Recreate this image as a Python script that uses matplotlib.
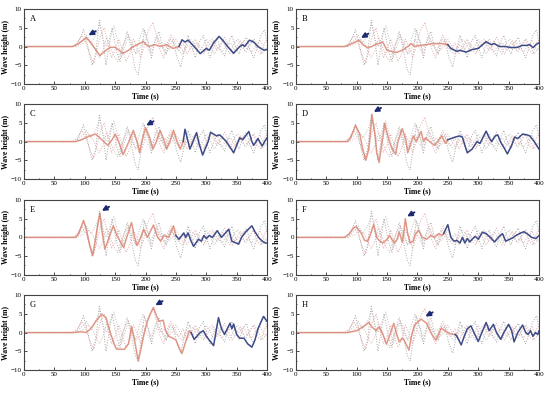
import numpy as np
import matplotlib
matplotlib.use('Agg')
import matplotlib.pyplot as plt
from matplotlib.ticker import MultipleLocator

plt.rcParams['font.family'] = ['Liberation Serif', 'DejaVu Serif']

# background gauges (dotted), shared by all panels
g1_t = [0, 85, 92, 98, 105, 112, 118, 124, 130, 135, 140, 145, 152, 158, 163, 170, 177, 183,
        188, 193, 198, 205, 210, 216, 222, 228, 234, 240, 246, 252, 258, 264, 270, 276, 282,
        288, 295, 300, 306, 312, 318, 324, 330, 336, 342, 348, 354, 360, 366, 372, 378, 384,
        390, 396, 400]
g1_v = [0, 0, 2, 4.5, 0, -5, -2, 7, 2, -5, 0, 5, -1, -4, 0, 4, -1, -6, -7.5, -2, 4.5, 1, -3,
        2, 4, 0, -2, 2, 1, -3, -5.5, -1, 3, 0, -3, 1, 3, 0, -3, 0, 2, -1, -2.5, 1, 3, 0, -2, 1,
        2.5, -1, -3, 0, 3, 4.5, 1]
g2_t = [0, 80, 88, 95, 102, 108, 115, 120, 126, 132, 138, 144, 150, 156, 162, 168, 174, 180,
        186, 192, 198, 204, 212, 218, 224, 230, 236, 242, 248, 255, 262, 268, 275, 282, 290,
        296, 302, 310, 317, 323, 330, 337, 343, 350, 356, 363, 370, 377, 384, 390, 396, 400]
g2_v = [0, 0, 1, 3, 1, -2, -4.5, -1, 3, 5, 1, -3, -1, 2, -1, -4, -2, 2, 0, -3, 0, 4, 6.5, 3,
        -1, -3, 1, 3, 0, -1, 1, -2, 0, 2, -1, -2, 1, 2, -1, 0, 2.5, 0, -2, 0, 1.5, -1, 0, 2, -1,
        -2, 1, 2]
g3_t = [0, 85, 95, 103, 110, 118, 125, 130, 136, 142, 148, 155, 160, 166, 172, 178, 184, 190,
        196, 202, 208, 214, 220, 227, 233, 240, 246, 253, 260, 266, 273, 280, 287, 294, 300,
        307, 313, 320, 326, 333, 339, 346, 352, 358, 365, 372, 379, 386, 392, 400]
g3_v = [0, 0, 1.5, 3, 1, 3, 6, 2, 0, 3, 5.5, 1, -3, 0, 3, 1, -2, 2, 5, 2, -1, 1, 2.5, 0, -2, 0,
        2, -1, -2, 0, 2, 1, -1.5, 0, 2, 0, -2, 0, 1.5, -0.5, -2, 1, 2, 0, -1.5, 0.5, 2, 0, -2, 0]
g4_t = [0, 85, 95, 105, 112, 118, 124, 130, 136, 142, 148, 154, 160, 166, 172, 178, 184, 190,
        196, 202, 208, 214, 220, 226, 232, 238, 244, 250, 257, 263, 270, 277, 284, 291, 298,
        305, 312, 319, 326, 333, 340, 347, 354, 361, 368, 375, 382, 389, 395, 400]
g4_v = [0, 0, 0.5, 2, 1, -1, -3, -1, 2.5, 0, -2.5, -4, -1, 1.5, 3, 0, -2, -1, 2, 0, -2, 0, 1.5,
        0, 1, -1, 0, 2, 0, -1.5, 0.5, -1, 1, 0, -1.5, 0.5, 1.5, -0.5, -1.5, 0.5, 1, -1, 0, 1.5,
        -0.5, -1.5, 0.5, 1.5, -0.5, -1]

# highlighted gauge of each panel: time, height, time where colour changes
a_t = [0, 80, 90, 103, 112, 125, 135, 142, 150, 163, 172, 180, 196, 205, 215, 225, 235, 245,
       255, 260, 265, 270, 280, 290, 300, 305, 312, 321, 328, 335, 345, 355, 360, 363, 371,
       378, 385, 390, 395, 400]
a_v = [0, 0, 0.8, 2.4, 0.5, -2.4, -1, -0.2, -0.2, -1.8, -1, 0, 1.3, 0, 0.5, 0, 0.5, -0.5, 0,
       1.8, 1.2, 1.7, 0, -1.9, -0.5, -1, 1, 2.7, 1.5, 0, -1.8, 0, 0.5, 0, 1.7, 1.2, 0, -0.5,
       -1, -0.8]
a_split = 255

b_t = [0, 80, 85, 95, 104, 110, 118, 125, 130, 138, 143, 150, 165, 175, 180, 190, 195, 205,
       215, 225, 240, 250, 255, 265, 270, 280, 290, 300, 305, 313, 318, 322, 326, 335, 345,
       355, 365, 372, 380, 385, 390, 395, 400]
b_v = [0, 0, 0.3, 1, 1.7, 0.5, -0.3, 0, 0.5, 0.9, 1.2, -1, -1.6, -1, -0.5, 0.8, 0, 0.3, 0.5,
       0.8, 0.8, 0.5, -0.5, -1.3, -1, -1.5, -0.8, -0.5, 0.2, 1.3, 0.8, 0.5, 0.8, 0, 0, -0.3,
       -0.2, 0.3, 0.3, 0.5, -0.3, 0.5, 1]
b_split = 250

c_t = [0, 85, 95, 108, 118, 128, 138, 145, 150, 157, 163, 170, 180, 187, 190, 194, 200, 207,
       212, 218, 224, 230, 235, 240, 246, 252, 257, 262, 265, 273, 284, 288, 294, 303, 307,
       317, 322, 327, 333, 345, 350, 355, 360, 370, 375, 378, 385, 392, 396, 400]
c_v = [0, 0, 0.5, 1.5, 2, 0.5, -1, 0.5, 2, -0.5, -3.5, -1, 3, -0.5, -3, 0, 3.7, 1, -2, 0, 3,
       0.5, -2, 0, 3, 0, -2, 0, 3.3, -2, 2.4, -0.5, -3.6, 0, 2.5, 1.5, 1.8, 1, 0, -3, -1, 1,
       0.5, 2.7, 0, -1, 0.8, -1.2, 0, 1]
c_split = 262

d_t = [0, 85, 90, 95, 98, 105, 110, 115, 120, 123, 125, 130, 133, 137, 140, 144, 146, 152,
       157, 164, 168, 175, 181, 184, 190, 193, 198, 206, 210, 213, 220, 228, 233, 240, 246,
       250, 262, 269, 274, 278, 282, 290, 298, 303, 313, 318, 322, 328, 332, 338, 342, 348,
       355, 360, 365, 373, 380, 385, 392, 400]
d_v = [0, 0, 1, 3, 4.4, 2, -2, -5, -2, 3, 7.3, 2, -3, -5.6, -2, 2, 4.9, 1, -1.5, -3.4, 0, 3.5,
       0.5, -3, 0, 1.5, 0, 2.7, 0, 1, 0, -1, 0, 1.5, -0.5, 0.5, 1.2, 1.5, 1.2, -1, -3, -2, 0,
       -0.5, 2.8, 1, 0, 1.5, 1.8, -0.5, -1.5, -3.3, -1, 1.2, 0.8, 2, 1.8, 1.5, 0, -2]
d_split = 250

e_t = [0, 85, 90, 98, 103, 108, 113, 117, 121, 125, 128, 133, 140, 147, 153, 164, 169, 177,
       182, 186, 192, 197, 203, 213, 220, 225, 230, 238, 246, 250, 255, 263, 266, 270, 275,
       279, 287, 292, 296, 300, 305, 310, 318, 325, 337, 342, 353, 358, 365, 375, 380, 386,
       392, 397, 400]
e_v = [0, 0, 1, 4.5, 2, -2, -4.9, -1, 3, 6.5, 2, -3.1, 0, 3.1, 0.5, -2.7, 0, 4, 0, -2.2, 0,
       2.2, 0, 3.3, 0, -1, 0.5, 0, 3.1, 0.5, -0.5, 1.2, 0, 1.2, -1, -2.4, -0.5, -1, 0.5, -0.3,
       0.5, 0, 1.8, 0, 2.2, -1, -1.8, 0, 1.5, 3.1, 1.5, 0, -1, -1.5, -1.5]
e_split = 248

f_t = [0, 80, 88, 95, 99, 108, 113, 118, 122, 128, 133, 138, 143, 150, 154, 162, 167, 170,
       175, 178, 180, 184, 188, 193, 197, 202, 208, 215, 222, 228, 235, 240, 243, 250, 255,
       260, 265, 270, 274, 278, 282, 286, 290, 295, 300, 307, 313, 320, 327, 333, 340, 345,
       352, 358, 362, 370, 375, 382, 388, 395, 400]
f_v = [0, 0, 1, 2.5, 2.9, 1, -0.8, -1, 0.5, 3.4, 0, -1, -1.5, -0.5, 0.5, -1.5, -0.5, 1.5,
       -1.3, 2, 5, 1, -1.5, -1, 1, 1.9, 0, -0.5, 0.5, 0, 1, 0.5, 1, 3.4, 0, -1, -0.8, -1.5, 0,
       -1.5, -0.3, -1.2, -0.5, 0.3, -0.5, 1.4, 1, 0, -1.2, 0, 1, -1, -0.5, 0, 0.5, 1.2, 1.5,
       0.8, 0, -0.3, 0.5]
f_split = 243

g_t = [0, 80, 95, 102, 110, 118, 128, 135, 142, 148, 152, 165, 172, 177, 183, 188, 193, 198,
       203, 208, 213, 218, 222, 229, 233, 238, 245, 250, 255, 260, 265, 272, 275, 280, 290,
       295, 300, 312, 320, 325, 330, 339, 342, 345, 350, 355, 362, 368, 375, 380, 385, 394,
       400]
g_v = [0, 0, 0.2, 0, 1, 3, 4.9, 4, 0, -3, -4.4, -4.5, -3, 1.6, -3, -7.6, -4, 0, 3, 5, 6.7,
       4.5, 3, 3.3, 0.5, -1, -1.5, -2, -4, -5.6, -3, 0.5, 0, -1.8, 0, 0.5, -1, -3.5, 4, 1,
       -0.5, 2.5, 1, 2.3, -0.5, -1.5, -1.5, -3, -3.9, -2, 1, 4.3, 3]
g_split = 275

h_t = [0, 85, 95, 100, 110, 120, 125, 132, 137, 142, 149, 156, 161, 165, 170, 175, 178, 186,
       190, 195, 206, 215, 222, 230, 236, 239, 245, 250, 258, 262, 265, 272, 277, 282, 288,
       293, 300, 306, 313, 318, 325, 330, 337, 342, 350, 355, 359, 365, 373, 378, 382, 386,
       390, 394, 398, 400]
h_v = [0, 0, 0.3, 0.5, 1.5, 2.7, 1.5, 0.5, 1.5, 0, -3.1, 0, 2.5, 0, -2.5, -1.5, -2, -4.7,
       -1, 2, 3.6, 2.5, 0, -2, 0, 1.2, 0.5, 0, -0.5, -0.5, -1, -3.3, -1, 1, 1.8, 0, -2.4, 0,
       2.7, 0.5, 2.2, 0, -1.8, 0, 2.2, 0.5, -2.5, 0, 2, 0, -0.5, 0.5, -1, 0, -0.5, 0.5]
h_split = 262

labels = ['A', 'B', 'C', 'D', 'E', 'F', 'G', 'H']
mains = [(a_t, a_v, a_split), (b_t, b_v, b_split), (c_t, c_v, c_split), (d_t, d_v, d_split),
         (e_t, e_v, e_split), (f_t, f_v, f_split), (g_t, g_v, g_split), (h_t, h_v, h_split)]
# arrow tip (time, height) for each panel
arrow_tip = [(106, 3.0), (107, 2.3), (201, 4.3), (128, 7.9), (128, 7.1), (183, 5.6),
             (216, 7.3), (213, 4.3)]

ghosts = [(g1_t, g1_v, '#a8a8a8'), (g2_t, g2_v, '#e6a4a4'), (g3_t, g3_v, '#bdbdbd'),
          (g4_t, g4_v, '#d8b4b4')]

RED = '#d8806c'
BLUE = '#3d4a86'

fig = plt.figure(figsize=(5.5, 3.96), dpi=100)
lefts = [0.0436, 0.538]
bottoms = [0.788, 0.548, 0.306, 0.0657]

for i, lab in enumerate(labels):
    row, col = divmod(i, 2)
    ax = fig.add_axes([lefts[col], bottoms[row], 0.442, 0.189])

    for gt, gv, gc in ghosts:
        ax.plot(gt, gv, ':', color=gc, lw=0.7)

    t, v, split = mains[i]
    t = np.array(t)
    v = np.array(v)
    k = np.searchsorted(t, split)
    ax.plot(t[:k + 1], v[:k + 1], '-', color=RED, lw=1.1, alpha=0.8)
    ax.plot(t[k:], v[k:], '-', color=BLUE, lw=1.1)

    tx, ty = arrow_tip[i]
    ax.annotate('', xy=(tx, ty), xytext=(tx + 12, ty + 1.1),
                arrowprops=dict(arrowstyle='-|>,head_width=0.35,head_length=0.7',
                                color='#1e2a70', lw=1.4, mutation_scale=4,
                                shrinkA=0, shrinkB=0))

    ax.set_xlim(0, 400)
    ax.set_ylim(-10, 10)
    ax.xaxis.set_major_locator(MultipleLocator(50))
    ax.xaxis.set_minor_locator(MultipleLocator(25))
    ax.yaxis.set_major_locator(MultipleLocator(5))
    ax.yaxis.set_minor_locator(MultipleLocator(2.5))
    ax.tick_params(which='both', direction='in', labelsize=5, length=2, width=0.5, pad=1.5)
    ax.tick_params(which='minor', length=1)
    for s in ax.spines.values():
        s.set_linewidth(0.8)
        s.set_color('#444444')
    ax.set_xlabel('Time (s)', fontsize=5.5, fontweight='bold', labelpad=1)
    ax.set_ylabel('Wave height (m)', fontsize=5.5, fontweight='bold', labelpad=1)
    ax.text(0.025, 0.92, lab, transform=ax.transAxes, fontsize=6, va='top', ha='left')

fig.savefig('out.png', dpi=100)
